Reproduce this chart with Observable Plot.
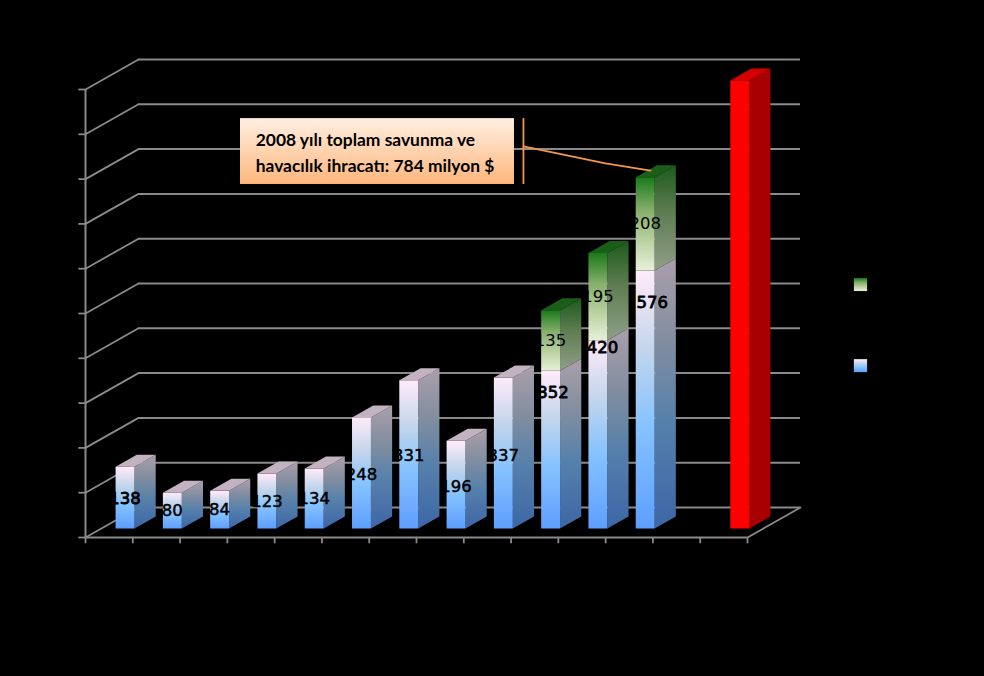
<!DOCTYPE html>
<html>
<head>
<meta charset="utf-8">
<script src="https://cdn.jsdelivr.net/npm/d3@7"></script>
<script src="https://cdn.jsdelivr.net/npm/@observablehq/plot@0.6"></script>
<style>
  html, body { margin: 0; padding: 0; background: #000; }
  svg { display: block; }
</style>
</head>
<body>
<div id="chart"></div>
<script>
// Category slots along the floor (0-based); slot 12 stays empty, slot 13 holds the red bar.
const blueSlots    = [0, 1, 2, 3, 4, 5, 6, 7, 8, 9, 10, 11];
const blueValues   = [138, 80, 84, 123, 134, 248, 331, 196, 337, 352, 420, 576];
const greenSlots   = [9, 10, 11];
const greenValues  = [135, 195, 208];
const redSlots     = [13];
const redValues    = [1000];

// Where the value labels sit on the bars (height above the bar base, shift in px)
const blueLabelHeights = [67, 40, 42, 60, 66, 121, 162, 94, 162, 303, 404, 505];
const blueLabelShift   = [0, 0, 0, 0, 0, 0, 0, 0, 0, 2.5, 4.5, 7];

const yTicks = d3.range(0, 1001, 100);
const xTicks = d3.range(0, 15);

// Oblique projection of the box, expressed in data units
const depthX = 53 / 47.286;   // slots per full floor depth
const depthY = 30 / 0.448;    // value units per full floor depth
const barWidth = 0.40;
const barFront = 0.3;         // share of the floor depth
const barBack  = 0.7;

const gridColor = "#8a8a8a";

// Gradients (top → bottom of each face)
const gradients = {
  blueFront:  [["0%", "#ffebfa"], ["30%", "#c4d6eb"], ["61%", "#85c2ff"], ["100%", "#5e9eff"]],
  blueSide:   [["0%", "#ab9fab"], ["30%", "#838ea0"], ["61%", "#5580ab"], ["100%", "#3d66a6"]],
  greenFront: [["0%", "#1a7a1a"], ["35%", "#86ae6c"], ["70%", "#bcd3a4"], ["100%", "#e6f0da"]],
  greenSide:  [["0%", "#1d5a1d"], ["45%", "#5f7d52"], ["100%", "#8f9f88"]],
  calloutBox: [["0%", "#ffefe2"], ["100%", "#ffb77c"]]
};

const blueTopColor = "#c2b2c2";
const greenTopColor = "#1a5e1a";
const redFrontColor = "#ff0000";
const redSideColor = "#a80000";
const redTopColor = "#d40000";

function defs() {
  const d = d3.create("svg:defs");
  for (const [id, stops] of Object.entries(gradients)) {
    const g = d.append("linearGradient").attr("id", id)
      .attr("x1", 0).attr("y1", 0).attr("x2", 0).attr("y2", 1);
    for (const [o, c] of stops) g.append("stop").attr("offset", o).attr("stop-color", c);
  }
  return d.node();
}

// Faces of one box between value v0 and v1
const left  = s => s + 0.5 - barWidth / 2 + barFront * depthX;
const right = s => s + 0.5 + barWidth / 2 + barFront * depthX;
const shiftX = (barBack - barFront) * depthX;
const shiftY = (barBack - barFront) * depthY;
const base = barFront * depthY;

function frontFace(s, v0, v1) {
  return [[left(s), base + v0], [right(s), base + v0], [right(s), base + v1], [left(s), base + v1]]
    .map(([x, y]) => ({id: s, x, y}));
}
function sideFace(s, v0, v1) {
  return [[right(s), base + v0], [right(s) + shiftX, base + v0 + shiftY],
          [right(s) + shiftX, base + v1 + shiftY], [right(s), base + v1]]
    .map(([x, y]) => ({id: s, x, y}));
}
function topFace(s, v) {
  return [[left(s), base + v], [right(s), base + v],
          [right(s) + shiftX, base + v + shiftY], [left(s) + shiftX, base + v + shiftY]]
    .map(([x, y]) => ({id: s, x, y}));
}

const greenBySlot = new Map(greenSlots.map((s, i) => [s, greenValues[i]]));
const blueBySlot = new Map(blueSlots.map((s, i) => [s, blueValues[i]]));

const poly = (rows, fill) => Plot.line(rows, {x: "x", y: "y", z: "id", fill, stroke: "none"});

// Walls and floor
const backLines = yTicks.map(v => ({v}));
const sideLines = yTicks.flatMap(v => [{id: v, x: 0, y: v}, {id: v, x: depthX, y: v + depthY}]);
const floorEdge = [{x: 14, y: 0}, {x: 14 + depthX, y: depthY}];

// Callout
const calloutBox = [{x1: 3.278, x2: 9.072, y1: 788, y2: 935}];
const calloutBar = [{x: 9.262, y1: 788, y2: 935}];
const calloutLeader = [{x: 9.262, y: 873}, {x: 10.996, y: 835}, {x: 11.95, y: 819}];
const calloutLines = [
  {x: 3.6, y: 887, text: "2008 yılı toplam savunma ve"},
  {x: 3.6, y: 829, text: "havacılık ihracatı: 784 milyon $"}
];

// Legend swatches
const legendSwatches = [
  {x1: 16.26, x2: 16.54, y1: 549, y2: 578, fill: "url(#greenFront)"},
  {x1: 16.26, x2: 16.54, y1: 368, y2: 397, fill: "url(#blueFront)"}
];

const labelFont = "DejaVu Sans";

const chart = Plot.plot({
  width: 984,
  height: 676,
  marginLeft: 85,
  marginRight: 237,
  marginTop: 89,
  marginBottom: 139,
  style: {background: "#000"},
  x: {domain: [0, 14], axis: null},
  y: {domain: [0, 1000], axis: null},
  marks: [
    defs,
    // back wall gridlines
    Plot.ruleY(backLines, {y: d => d.v + depthY, x1: depthX, x2: 14 + depthX, stroke: gridColor, strokeWidth: 2}),
    // side wall gridlines
    Plot.line(sideLines, {x: "x", y: "y", z: "id", stroke: gridColor, strokeWidth: 1.8}),
    // floor right edge
    Plot.line(floorEdge, {x: "x", y: "y", stroke: gridColor, strokeWidth: 1.8}),
    // front axes and ticks
    Plot.ruleX([0], {y1: 0, y2: 1000, stroke: gridColor, strokeWidth: 2}),
    Plot.ruleY([0], {x1: 0, x2: 14, stroke: gridColor, strokeWidth: 2}),
    Plot.ruleY(yTicks, {x1: -0.14, x2: 0, stroke: gridColor, strokeWidth: 1.8}),
    Plot.ruleX(xTicks, {y1: -14, y2: 0, stroke: gridColor, strokeWidth: 1.8}),

    // blue bars
    poly(blueSlots.flatMap((s, i) => sideFace(s, 0, blueValues[i])), "url(#blueSide)"),
    poly(blueSlots.flatMap((s, i) => frontFace(s, 0, blueValues[i])), "url(#blueFront)"),
    poly(blueSlots.filter(s => !greenBySlot.has(s)).flatMap(s => topFace(s, blueBySlot.get(s))), blueTopColor),

    // green bars, stacked
    poly(greenSlots.flatMap((s, i) => sideFace(s, blueBySlot.get(s), blueBySlot.get(s) + greenValues[i])), "url(#greenSide)"),
    poly(greenSlots.flatMap((s, i) => frontFace(s, blueBySlot.get(s), blueBySlot.get(s) + greenValues[i])), "url(#greenFront)"),
    poly(greenSlots.flatMap((s, i) => topFace(s, blueBySlot.get(s) + greenValues[i])), greenTopColor),

    // red bar
    poly(redSlots.flatMap((s, i) => sideFace(s, 0, redValues[i])), redSideColor),
    poly(redSlots.flatMap((s, i) => frontFace(s, 0, redValues[i])), redFrontColor),
    poly(redSlots.flatMap((s, i) => topFace(s, redValues[i])), redTopColor),

    // value labels (black, only readable where they cross the bars)
    ...blueSlots.map((s, j) => Plot.text([s], {
      x: d => d + 0.5 + barFront * depthX,
      y: () => base + blueLabelHeights[j],
      dx: blueLabelShift[j],
      text: () => String(blueValues[j]),
      fill: "#000", stroke: "#000", strokeWidth: j >= 9 || j === 0 ? 0.8 : 0.5,
      fontFamily: labelFont, fontSize: 16.5
    })),
    Plot.text(greenSlots, {
      x: s => s + 0.5 + barFront * depthX,
      y: (s, i) => base + blueBySlot.get(s) + greenValues[i] / 2,
      text: (s, i) => String(greenValues[i]),
      fill: "#000",
      fontFamily: labelFont, fontSize: 16.5
    }),

    // callout
    Plot.rect(calloutBox, {x1: "x1", x2: "x2", y1: "y1", y2: "y2", fill: "url(#calloutBox)"}),
    Plot.ruleX(calloutBar, {x: "x", y1: "y1", y2: "y2", stroke: "#f79646", strokeWidth: 1.8}),
    Plot.line(calloutLeader, {x: "x", y: "y", stroke: "#f79646", strokeWidth: 1.8}),
    Plot.text(calloutLines, {
      x: "x", y: "y", text: "text", textAnchor: "start", fill: "#000",
      fontFamily: "Lato", fontWeight: "bold", fontSize: 17.4
    }),

    // legend swatches
    ...legendSwatches.map(d => Plot.rect([d], {x1: "x1", x2: "x2", y1: "y1", y2: "y2", fill: d.fill}))
  ]
});
document.getElementById("chart").append(chart);
</script>
</body>
</html>
